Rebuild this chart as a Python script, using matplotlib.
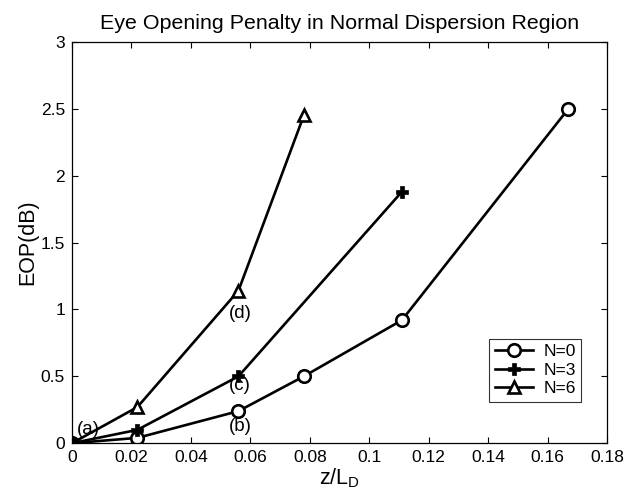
import matplotlib
matplotlib.use("Agg")
import matplotlib.pyplot as plt

plt.rcParams['font.family'] = ['Liberation Sans', 'DejaVu Sans']

# EOP versus normalized distance for each value of N
z0 = [0, 0.022, 0.056, 0.078, 0.111, 0.167]
eop0 = [0, 0.04, 0.24, 0.50, 0.92, 2.50]
z3 = [0, 0.022, 0.056, 0.111]
eop3 = [0, 0.10, 0.50, 1.88]
z6 = [0, 0.022, 0.056, 0.078]
eop6 = [0, 0.27, 1.14, 2.45]
series_labels = ['N=0', 'N=3', 'N=6']

# Case labels and their anchor positions
case_labels = ['(a)', '(b)', '(c)', '(d)']
case_x = [0.0055, 0.0565, 0.0565, 0.0565]
case_y = [0.105, 0.125, 0.43, 0.97]

xticks = [0, 0.02, 0.04, 0.06, 0.08, 0.1, 0.12, 0.14, 0.16, 0.18]
xticklabels = ['0', '0.02', '0.04', '0.06', '0.08', '0.1', '0.12', '0.14', '0.16', '0.18']
yticks = [0, 0.5, 1, 1.5, 2, 2.5, 3]
yticklabels = ['0', '0.5', '1', '1.5', '2', '2.5', '3']

fig = plt.figure(figsize=(6.37, 4.98), dpi=100)
ax = fig.add_axes([0.113, 0.110, 0.840, 0.806])

ax.plot(z0, eop0, color='black', lw=1.9, marker='o', ms=9, mfc='white',
        mec='black', mew=1.9, label=series_labels[0])
ax.plot(z3, eop3, color='black', lw=1.9, marker='P', ms=8, mfc='black',
        mec='black', mew=0.5, label=series_labels[1])
ax.plot(z6, eop6, color='black', lw=1.9, marker='^', ms=9, mfc='white',
        mec='black', mew=1.9, label=series_labels[2])
ax.plot([0], [0], marker='o', ms=8, color='black', ls='none')

for lab, x, y in zip(case_labels, case_x, case_y):
    ax.text(x, y, lab, fontsize=13.5, ha='center', va='center')

ax.set_xlim(0, 0.18)
ax.set_ylim(0, 3)
ax.set_xticks(xticks)
ax.set_xticklabels(xticklabels)
ax.set_yticks(yticks)
ax.set_yticklabels(yticklabels)
ax.tick_params(direction='in', length=4, labelsize=12.5, top=True, right=True,
               labeltop=False, labelright=False, width=0.8, pad=5)
for s in ax.spines.values():
    s.set_linewidth(0.9)

ax.set_title('Eye Opening Penalty in Normal Dispersion Region', fontsize=15.4, pad=9)
ax.set_xlabel('z/L$_\\mathregular{D}$', fontsize=15.5, labelpad=1)
ax.set_ylabel('EOP(dB)', fontsize=15.5, labelpad=2)

leg = ax.legend(loc='upper left', bbox_to_anchor=(0.78, 0.26), fontsize=12.5,
                frameon=True, fancybox=False, edgecolor='black',
                handlelength=2.2, borderpad=0.3, labelspacing=0.2,
                handletextpad=0.6, borderaxespad=0)
leg.get_frame().set_linewidth(0.8)

fig.savefig('out.png', dpi=100)
